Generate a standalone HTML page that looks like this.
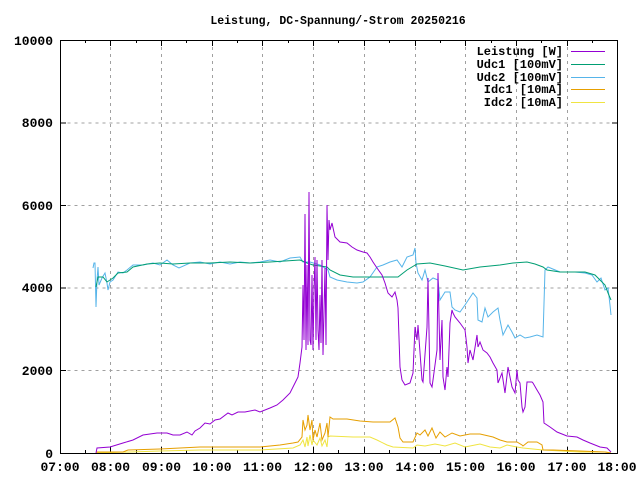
<!DOCTYPE html>
<html><head><meta charset="utf-8"><style>
html,body{margin:0;padding:0;background:#fff}
svg{display:block}
text{font-family:"Liberation Mono",monospace;font-weight:bold;fill:#000}
</style></head><body>
<svg width="640" height="480" viewBox="0 0 640 480" xmlns="http://www.w3.org/2000/svg">
<rect width="640" height="480" fill="#fff"/>
<g stroke="#a0a0a0" stroke-width="1" stroke-dasharray="3,4" fill="none">
<path d="M60.5 370.5H618M60.5 288H618M60.5 205.5H618M60.5 123H618M60.5 40.5H618"/>
<path d="M110.5 40V453M161.5 40V453M212.5 40V453M262.5 40V453M313.5 40V453M364.5 40V453M415.5 40V453M465.5 40V453M516.5 40V453M567.5 40V453"/>
</g>
<g stroke="#000" stroke-width="1" fill="none">
<path d="M60 453.5h6M60 370.5h6M60 288h6M60 205.5h6M60 123h6M60 40.5h6M618 453.5h-6M618 370.5h-6M618 288h-6M618 205.5h-6M618 123h-6M618 40.5h-6"/>
<path d="M110.5 453v-6M161.5 453v-6M212.5 453v-6M262.5 453v-6M313.5 453v-6M364.5 453v-6M415.5 453v-6M465.5 453v-6M516.5 453v-6M567.5 453v-6
M110.5 40v6M161.5 40v6M212.5 40v6M262.5 40v6M313.5 40v6M364.5 40v6M415.5 40v6M465.5 40v6M516.5 40v6M567.5 40v6
M85.5 453v-3M136.5 453v-3M186.5 453v-3M237.5 453v-3M288.5 453v-3M338.5 453v-3M389.5 453v-3M440.5 453v-3M491.5 453v-3M541.5 453v-3M592.5 453v-3
M85.5 40v3M136.5 40v3M186.5 40v3M237.5 40v3M288.5 40v3M338.5 40v3M389.5 40v3M440.5 40v3M491.5 40v3M541.5 40v3M592.5 40v3"/>
</g>
<g font-size="13" text-anchor="end">
<text x="53" y="458">0</text><text x="53" y="375">2000</text><text x="53" y="292">4000</text><text x="53" y="210">6000</text><text x="53" y="127">8000</text><text x="53" y="45">10000</text>
</g>
<g font-size="13" text-anchor="middle">
<text x="60" y="471">07:00</text><text x="110.5" y="471">08:00</text><text x="161.5" y="471">09:00</text><text x="212" y="471">10:00</text><text x="262.5" y="471">11:00</text><text x="313.5" y="471">12:00</text><text x="364" y="471">13:00</text><text x="415" y="471">14:00</text><text x="465.5" y="471">15:00</text><text x="516" y="471">16:00</text><text x="567" y="471">17:00</text><text x="617" y="471">18:00</text>
</g>
<text x="338" y="24" font-size="11.5" text-anchor="middle">Leistung, DC-Spannung/-Strom 20250216</text>

<g fill="none" stroke-width="1" stroke-linejoin="miter">
<!-- Idc2 -->
<polyline stroke="#f0e442" points="96,453 130,452 160,451 200,450 260,450 293,448 300,445 303,440 305,447 307,437 308,446 310,435 312,445 313,440 317,445 320,438 322,446 325,440 327,447 328,437 330,436 353,437 370,437 377,440 387,445 393,447 413,448 417,445 425,446 435,444 445,446 455,443 465,447 475,445 480,444 490,447 500,448 507,445 517,447 523,448 543,450 580,452 605,452 611,453"/>
<!-- Idc1 -->
<polyline stroke="#e69f00" points="96,452 123,452 128,450 160,449 200,447 240,447 260,447 280,445 293,443 298,442 302,437 303,420 305,430 307,425 308,415 310,430 312,420 313,440 315,430 317,437 320,423 322,440 325,433 327,423 328,437 330,417 333,419 347,419 360,421 373,422 390,422 395,418 398,427 400,438 403,442 413,442 417,433 420,435 425,430 428,436 432,428 436,438 440,432 445,437 452,433 460,436 470,434 480,434 493,437 500,440 507,442 517,442 522,445 523,446 528,442 537,442 542,445 543,450 553,450 580,451 605,452 611,453"/>
<!-- Udc2 -->
<polyline stroke="#56b4e9" points="93,268 94,263 95,263 96,307 97,280 98,267 99,285 102,278 105,273 107,283 108,290 110,282 113,280 118,272 123,273 127,270 133,265 143,265 153,263 160,265 167,260 173,265 179,268 190,263 200,262 210,264 220,262 230,264 240,262 250,263 260,262 270,260 280,262 290,258 300,257 303,262 310,262 320,265 328,270 330,277 337,280 347,282 357,283 363,282 370,277 377,267 383,265 390,262 397,260 402,267 407,257 413,255 415,248 416,263 418,273 422,280 425,270 428,282 433,278 438,280 440,300 445,292 450,292 452,307 455,310 460,312 465,305 473,293 477,298 478,320 482,322 485,308 488,317 493,312 498,308 500,320 503,335 508,325 512,332 515,338 520,335 525,338 530,337 537,335 543,337 545,270 548,267 560,272 575,272 585,273 592,275 597,282 601,278 605,290 608,288 610,305 611,315"/>
<!-- Udc1 -->
<polyline stroke="#009e73" points="96,287 98,277 103,277 107,282 113,278 118,273 127,272 133,267 147,264 160,263 173,264 190,263 210,263 230,262 250,263 270,262 300,260 307,263 313,265 327,267 330,270 340,275 353,277 370,277 383,277 398,277 407,270 417,264 430,263 445,266 463,270 480,267 500,265 513,263 527,262 535,264 543,267 547,270 560,272 585,272 595,275 600,280 605,285 608,293 611,300"/>
<!-- Leistung -->
<polyline stroke="#9400d3" points="96,453 97,448 110,447 123,443 133,440 143,435 157,433 167,433 173,435 180,435 187,432 192,435 195,431 200,428 205,423 210,424 215,420 220,419 228,413 232,415 238,412 245,412 255,410 260,412 270,408 277,405 283,400 290,393 295,383 298,377 300,363 302,347 303,285 304,340 305,214 306,350 307,265 308,345 309,192 310,340 311,345 312,275 313,350 314,290 315,257 316,340 317,260 318,330 319,350 320,295 321,343 322,260 323,355 325,268 326,345 327,205 328,260 329,220 330,230 332,223 335,237 340,242 347,243 352,247 357,250 363,252 367,253 370,257 373,262 377,268 382,275 385,283 388,293 392,297 395,292 397,300 398,308 400,367 402,380 405,385 410,383 413,373 415,327 417,340 418,325 422,380 423,382 427,327 428,278 430,383 432,387 433,380 437,350 438,273 440,360 442,320 443,377 445,390 447,367 448,377 450,323 452,310 453,313 455,317 460,323 465,330 467,347 468,363 470,350 473,360 477,335 478,347 480,342 483,350 487,353 490,357 493,363 497,370 498,383 502,373 505,393 508,367 512,387 515,393 517,370 518,380 520,383 522,407 523,412 525,407 527,382 532,382 533,383 537,390 540,395 543,402 544,423 550,427 557,432 567,436 577,437 583,440 590,443 600,447 607,448 611,452"/>
</g>

<g font-size="12" text-anchor="end">
<text x="563" y="55">Leistung [W]</text>
<text x="563" y="68">Udc1 [100mV]</text>
<text x="563" y="81">Udc2 [100mV]</text>
<text x="563" y="93">Idc1 [10mA]</text>
<text x="563" y="106">Idc2 [10mA]</text>
</g>
<g stroke-width="1">
<line x1="571" y1="51.5" x2="605" y2="51.5" stroke="#9400d3"/>
<line x1="571" y1="64.5" x2="605" y2="64.5" stroke="#009e73"/>
<line x1="571" y1="77.5" x2="605" y2="77.5" stroke="#56b4e9"/>
<line x1="571" y1="89.5" x2="605" y2="89.5" stroke="#e69f00"/>
<line x1="571" y1="102.5" x2="605" y2="102.5" stroke="#f0e442"/>
</g>
<rect x="60.5" y="40.5" width="557" height="413" fill="none" stroke="#000" stroke-width="1"/>
</svg>
</body></html>
